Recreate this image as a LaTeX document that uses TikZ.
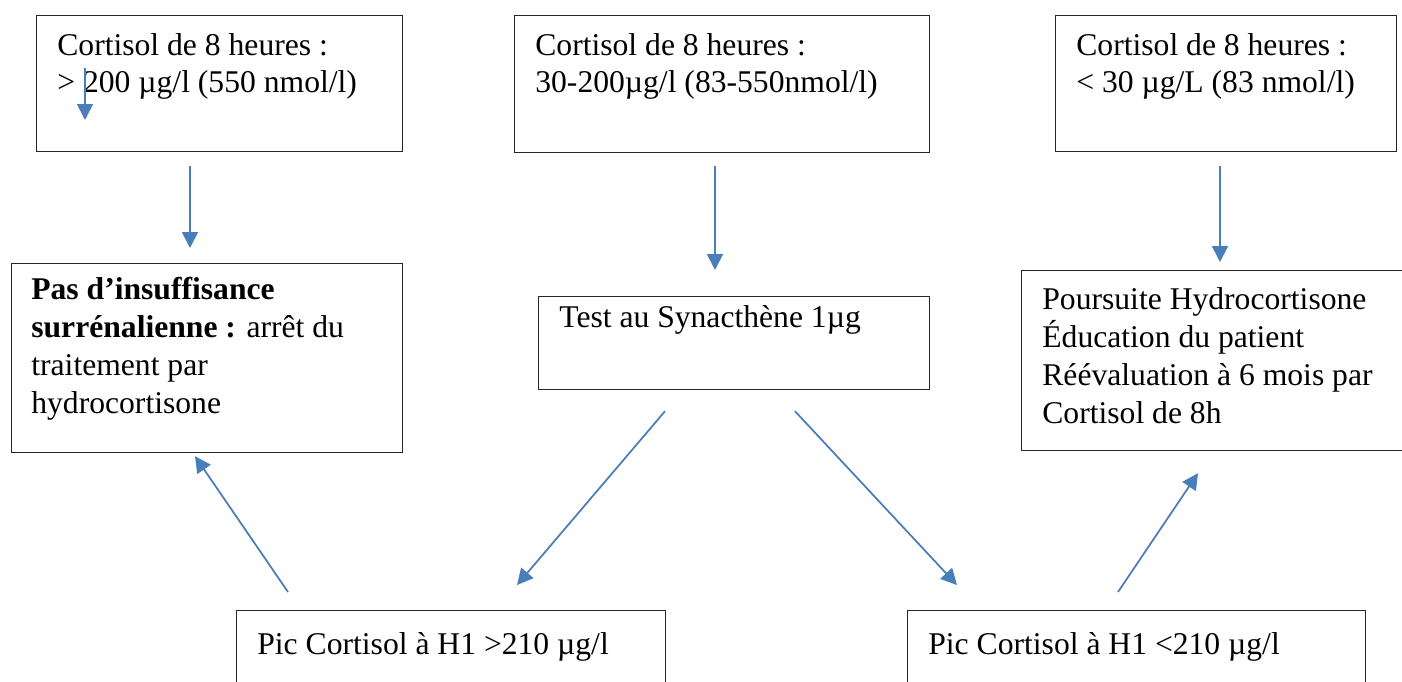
\documentclass[tikz,border=0pt]{standalone}
\usepackage{fontspec}
\setmainfont{Liberation Serif}
\usepackage{xcolor}
\usetikzlibrary{arrows.meta, calc}
\definecolor{arrowblue}{RGB}{74,126,187}

\begin{document}
\begin{tikzpicture}[
    x=0.02cm, y=-0.02cm,
    box/.style={draw=black!85, line width=0.7pt, anchor=north west, inner sep=0pt},
    txt/.style={anchor=base west, align=left, inner sep=0pt, font=\fontsize{18}{21.5}\selectfont},
    arr/.style={draw=arrowblue, line width=1pt, -{Triangle[length=0.32cm, width=0.32cm]}}
]
    \clip (0,0) rectangle (1402,682);
    \fill[white] (0,0) rectangle (1402,682);

    % Cortisol de 8 heures: three ranges
    \node[box, minimum width=7.32cm, minimum height=2.72cm] (high) at (36,15) {};
    \node[box, minimum width=8.30cm, minimum height=2.74cm] (mid) at (514,15) {};
    \node[box, minimum width=6.82cm, minimum height=2.72cm] (low) at (1055,15) {};
    % (base of a text = its last line)
    \node[txt] (hightxt) at ([shift={(21,78)}]high.north west) {Cortisol de 8 heures :\\> 200 µg/l (550 nmol/l)};
    \node[txt] (midtxt) at ([shift={(21,78)}]mid.north west) {Cortisol de 8 heures :\\30-200µg/l (83-550nmol/l)};
    \node[txt] (lowtxt) at ([shift={(21,78)}]low.north west) {Cortisol de 8 heures :\\< 30 µg/L (83 nmol/l)};

    % Decisions
    \node[box, minimum width=7.82cm, minimum height=3.78cm] (stop) at (11,263) {};
    \node[box, minimum width=7.82cm, minimum height=1.86cm] (test) at (538,296) {};
    \node[box, minimum width=7.90cm, minimum height=3.60cm] (keep) at (1021,270) {};
    \node[txt] (stoptxt) at ([shift={(20,150)}]stop.north west) {\textbf{Pas d’insuffisance}\\\textbf{surrénalienne :} arrêt du\\traitement par\\hydrocortisone};
    \node[txt] (testtxt) at ([shift={(21,31)}]test.north west) {Test au Synacthène 1µg};
    \node[txt] (keeptxt) at ([shift={(21,153)}]keep.north west) {Poursuite Hydrocortisone\\Éducation du patient\\Réévaluation à 6 mois par\\Cortisol de 8h};

    % Synacthene results
    \node[box, minimum width=8.58cm, minimum height=2cm] (peakhi) at (236,610) {};
    \node[box, minimum width=9.16cm, minimum height=2cm] (peaklo) at (907,610) {};
    \node[txt] (peakhitxt) at ([shift={(21,44)}]peakhi.north west) {Pic Cortisol à H1 >210 µg/l};
    \node[txt] (peaklotxt) at ([shift={(21,44)}]peaklo.north west) {Pic Cortisol à H1 <210 µg/l};

    % Arrows
    \draw[arr] ($(high.south west)+(154,14)$) -- ($(stop.north west)+(179,-15)$);
    \draw[arr] ($(mid.south west)+(201,13)$) -- ($(test.north west)+(177,-26)$);
    \draw[arr] ($(low.south west)+(165,14)$) -- ($(keep.north west)+(199,-8)$);
    \draw[arr] ($(test.south west)+(127,21)$) -- ($(peakhi.north west)+(281,-25)$);
    \draw[arr] ($(test.south west)+(257,21)$) -- ($(peaklo.north west)+(50,-25)$);
    \draw[arr] ($(peakhi.north west)+(52,-18)$) -- ($(stop.south west)+(184,3)$);
    \draw[arr] ($(peaklo.north west)+(211,-18)$) -- ($(keep.south west)+(177,22)$);
    % stray arrow inside the first box
    \draw[arr] ($(high.north west)+(49,53)$) -- ($(high.north west)+(49,105)$);
\end{tikzpicture}
\end{document}
